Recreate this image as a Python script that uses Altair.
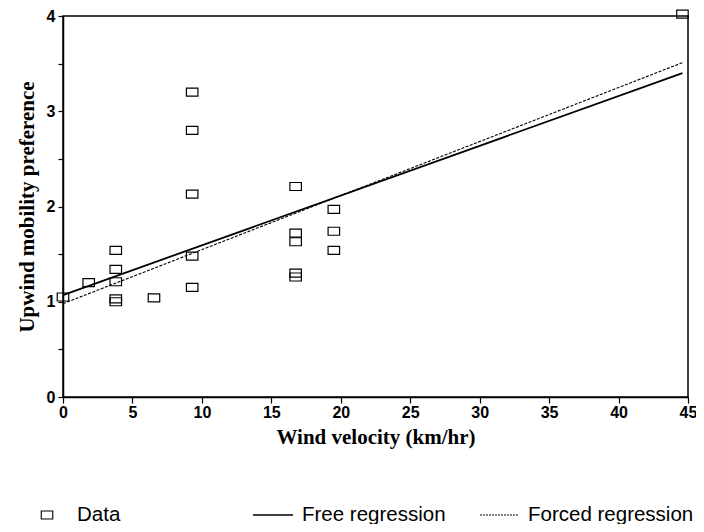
import altair as alt
import pandas as pd

# Data
wind = [0, 1.85, 3.8, 3.8, 3.8, 3.8, 3.8, 6.55, 9.3, 9.3, 9.3, 9.3, 9.3,
        16.75, 16.75, 16.75, 16.75, 16.75, 19.5, 19.5, 19.5, 44.6]
pref = [1.05, 1.20, 1.54, 1.34, 1.21, 1.03, 1.00, 1.04, 3.20, 2.80, 2.13, 1.48, 1.15,
        2.21, 1.72, 1.63, 1.30, 1.26, 1.97, 1.74, 1.54, 4.02]

free_x = [0, 44.6]
free_y = [1.07, 3.40]
forced_x = [0, 44.6]
forced_y = [0.98, 3.51]

x_ticks = [0, 5, 10, 15, 20, 25, 30, 35, 40, 45]
y_ticks = [0, 0.5, 1, 1.5, 2, 2.5, 3, 3.5, 4]

legend_labels = ["Data", "Free regression", "Forced regression"]

pts = pd.DataFrame({"wind": wind, "pref": pref})
free = pd.DataFrame({"wind": free_x, "pref": free_y})
forced = pd.DataFrame({"wind": forced_x, "pref": forced_y})

W, H = 625, 381
rect = "M-1.15,-0.8L1.15,-0.8L1.15,0.8L-1.15,0.8Z"

xs = alt.X("wind:Q", scale=alt.Scale(domain=[0, 45], nice=False, zero=False),
           axis=alt.Axis(title="Wind velocity (km/hr)", values=x_ticks, grid=False, format="d",
                         tickSize=6, labelPadding=1, titlePadding=6, labelFlush=False))
ys = alt.Y("pref:Q", scale=alt.Scale(domain=[0, 4], nice=False),
           axis=alt.Axis(title="Upwind mobility preference", values=y_ticks, grid=False,
                         labelExpr="datum.value % 1 == 0 ? format(datum.value, 'd') : ''",
                         tickSize=5, labelPadding=3, titlePadding=9, labelFlush=False))

points = alt.Chart(pts).mark_point(shape=rect, size=100, filled=False, color="black",
                                   strokeWidth=1.2, opacity=1, clip=False).encode(x=xs, y=ys)
free_line = alt.Chart(free).mark_line(color="black", strokeWidth=1.8).encode(x="wind:Q", y="pref:Q")
forced_line = alt.Chart(forced).mark_line(color="black", strokeWidth=1.1,
                                          strokeDash=[3, 1.5]).encode(x="wind:Q", y="pref:Q")

LT = 505   # legend text baseline (relative to plot top)
LM = 499   # legend symbol centre
FS = 20.5
leg = pd.DataFrame({"a": [0]})
leg_sq = alt.Chart(leg).mark_point(shape=rect, size=100, filled=False, color="black", opacity=1,
                                   strokeWidth=1.1).encode(x=alt.value(-16), y=alt.value(LM))
leg_data = alt.Chart(leg).mark_text(text=legend_labels[0], align="left", baseline="alphabetic",
                                    font="Liberation Sans", fontSize=FS, color="black").encode(
    x=alt.value(14), y=alt.value(LT))
leg_free_rule = alt.Chart(leg).mark_rule(color="black", strokeWidth=1.5).encode(
    x=alt.value(190), x2=alt.value(230), y=alt.value(LM))
leg_free_txt = alt.Chart(leg).mark_text(text=legend_labels[1], align="left", baseline="alphabetic",
                                        font="Liberation Sans", fontSize=FS, color="black").encode(
    x=alt.value(239), y=alt.value(LT))
leg_forced_rule = alt.Chart(leg).mark_rule(color="black", strokeWidth=1, strokeDash=[2, 1]).encode(
    x=alt.value(417), x2=alt.value(455), y=alt.value(LM))
leg_forced_txt = alt.Chart(leg).mark_text(text=legend_labels[2], align="left", baseline="alphabetic",
                                          font="Liberation Sans", fontSize=FS, color="black").encode(
    x=alt.value(465), y=alt.value(LT))

chart = alt.layer(points, free_line, forced_line, leg_sq, leg_data, leg_free_rule, leg_free_txt,
                  leg_forced_rule, leg_forced_txt).properties(
    width=W, height=H,
    autosize=alt.AutoSizeParams(type="none"),
    padding={"left": 55, "top": 8, "right": 8, "bottom": 127},
    background="white",
).configure_view(stroke="black", strokeWidth=1.5).configure_axis(
    domainColor="black", domainWidth=1.5, tickColor="black", tickWidth=1.2,
    labelFont="Liberation Sans", labelFontWeight="bold", labelFontSize=16, labelColor="black",
    titleFont="Liberation Serif", titleFontWeight="bold", titleFontSize=21, titleColor="black",
)

chart.save("out.html", embed_options={"renderer": "svg", "actions": False})
